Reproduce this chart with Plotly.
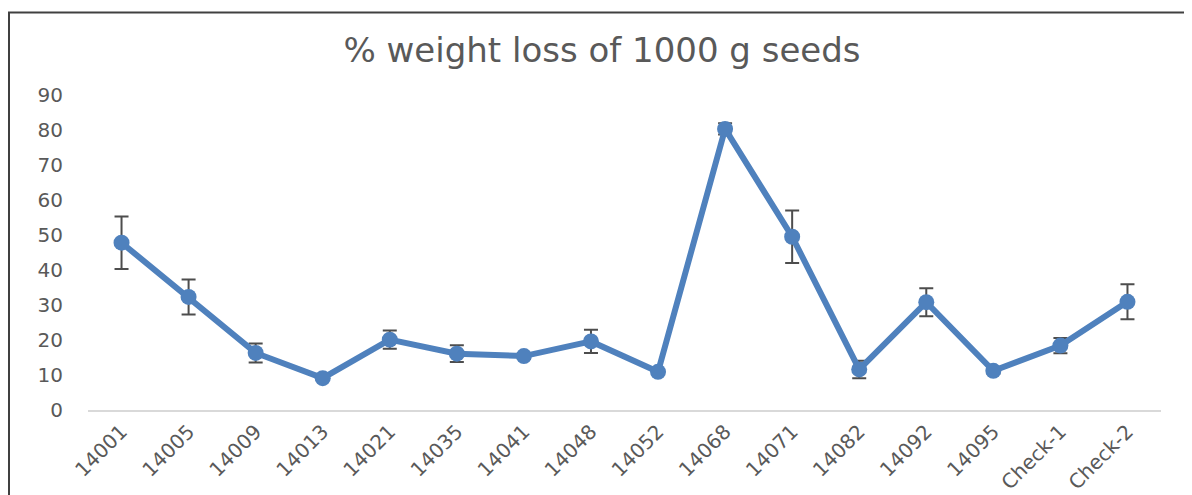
import plotly.graph_objects as go

categories = ["14001", "14005", "14009", "14013", "14021", "14035", "14041", "14048",
              "14052", "14068", "14071", "14082", "14092", "14095", "Check-1", "Check-2"]
weight_loss = [47.8, 32.3, 16.3, 9.1, 20.1, 16.1, 15.4, 19.6,
               10.9, 80.3, 49.5, 11.6, 30.8, 11.2, 18.4, 30.9]
error = [7.5, 5.0, 2.7, 0.5, 2.6, 2.4, 0.8, 3.3,
         0.5, 1.6, 7.5, 2.5, 4.0, 0.8, 2.2, 5.0]

# page body has an 8px margin, so the figure starts at (8, 8) on screen
W, H = 1184, 487
L, R, T, B = 80, 31, 87, 85
pw, ph = W - L - R, H - T - B

fig = go.Figure()
fig.add_trace(go.Scatter(
    x=categories, y=weight_loss, mode="lines+markers",
    line=dict(color="#4F81BD", width=6),
    marker=dict(color="#4F81BD", size=16),
    error_y=dict(type="data", array=error, visible=True,
                 color="#4D4D4D", thickness=2, width=7),
    showlegend=False,
))

def px_x(v):
    return (v - L) / pw

def px_y(v):
    return (H - B - v) / ph

fig.add_shape(type="rect", xref="paper", yref="paper",
              x0=px_x(1), x1=px_x(W + 10), y0=px_y(H + 10), y1=px_y(4.5),
              line=dict(color="#404040", width=2), fillcolor="rgba(0,0,0,0)", layer="below")

FONT = "DejaVu Sans"
fig.update_layout(
    width=W, height=H,
    margin=dict(l=L, r=R, t=T, b=B, autoexpand=False),
    paper_bgcolor="white", plot_bgcolor="white",
    title=dict(text="% weight loss of 1000 g seeds", x=594 / W, xanchor="center",
               y=1 - 42 / H, yanchor="middle",
               font=dict(family=FONT, size=34, color="#595959")),
    font=dict(family=FONT, color="#595959"),
    xaxis=dict(type="category", showgrid=False, showline=True, linecolor="#D9D9D9",
               linewidth=2, ticks="", tickangle=-45, automargin=False,
               tickfont=dict(family=FONT, size=20, color="#595959"), range=[-0.5, 15.5]),
    yaxis=dict(range=[0, 90], dtick=10, showgrid=False, zeroline=False, showline=False,
               ticks="", automargin=False,
               tickfont=dict(family=FONT, size=20, color="#595959"),
               ticklabelstandoff=24),
)

fig.write_html("out.html")
